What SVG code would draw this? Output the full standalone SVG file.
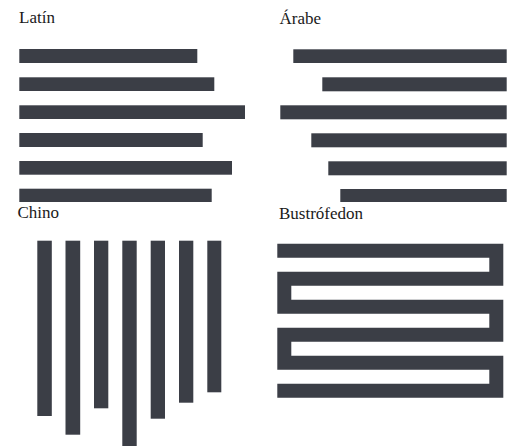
<svg xmlns="http://www.w3.org/2000/svg" width="513" height="446" viewBox="0 0 513 446">
<style>
.t{font-family:"Liberation Serif","Times New Roman",serif;font-size:17px;fill:#1a1a1a}
.b{fill:#3b3e46}
</style>
<rect width="513" height="446" fill="#ffffff"/>
<g id="latin">
<text class="t" x="19" y="23.3">Latín</text>
<rect class="b" x="19.3" y="49" width="178" height="14"/>
<rect class="b" x="19.3" y="77.3" width="195" height="13.7"/>
<rect class="b" x="19.3" y="105.3" width="225.7" height="13.7"/>
<rect class="b" x="19.3" y="133" width="183.4" height="14"/>
<rect class="b" x="19.3" y="161" width="212.7" height="13.7"/>
<rect class="b" x="19.3" y="188.7" width="192.4" height="13.3"/>
</g>
<g id="arabe">
<text class="t" x="279.5" y="24">Árabe</text>
<rect class="b" x="293.3" y="49.3" width="213.4" height="13.7"/>
<rect class="b" x="322.3" y="77.3" width="184.4" height="14"/>
<rect class="b" x="280.3" y="105.3" width="226.4" height="14"/>
<rect class="b" x="311.3" y="133.3" width="195.4" height="14"/>
<rect class="b" x="328.3" y="161.3" width="178.4" height="14"/>
<rect class="b" x="340.3" y="189" width="166.4" height="13"/>
</g>
<g id="chino">
<text class="t" x="17.5" y="218.3">Chino</text>
<rect class="b" x="37.3" y="240.7" width="14.5" height="175.3"/>
<rect class="b" x="65.5" y="240.7" width="14.7" height="194"/>
<rect class="b" x="94" y="240.7" width="14.3" height="167.6"/>
<rect class="b" x="122.3" y="240.7" width="14.4" height="206"/>
<rect class="b" x="150.7" y="240.7" width="14.3" height="178"/>
<rect class="b" x="179" y="240.7" width="14.3" height="162"/>
<rect class="b" x="207.3" y="240.7" width="14" height="151.6"/>
</g>
<g id="bustrofedon">
<text class="t" x="279" y="219">Bustrófedon</text>
<path d="M277.3 250.7H496.3V278.7H284.3V306.7H496.3V334.7H284.3V362.7H496.3V390.7H277.3" fill="none" stroke="#3b3e46" stroke-width="14" stroke-linejoin="miter" stroke-linecap="butt"/>
</g>
<g id="connectors"></g>
</svg>
